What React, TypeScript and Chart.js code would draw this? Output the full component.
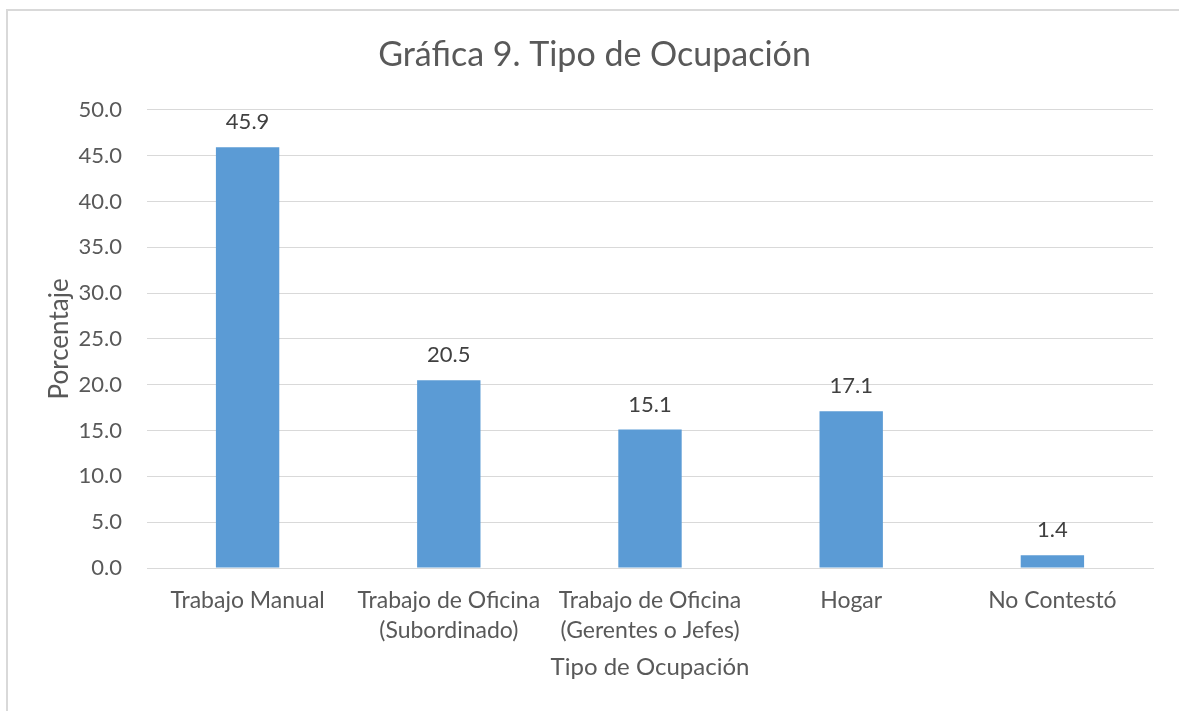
import React, { useEffect, useRef } from "react";
import { Chart, registerables } from "chart.js";

Chart.register(...registerables);

const categories: (string | string[])[] = [
  "Trabajo Manual",
  ["Trabajo de Oficina", "(Subordinado)"],
  ["Trabajo de Oficina", "(Gerentes o Jefes)"],
  "Hogar",
  "No Contestó",
];
const values = [45.9, 20.5, 15.1, 17.1, 1.4];
const titleText = "Gráfica 9. Tipo de Ocupación";
const yTitle = "Porcentaje";
const xTitle = "Tipo de Ocupación";

const FONT = "Lato, 'Open Sans', sans-serif";
const TEXT = "#595959";

const dataLabels = {
  id: "dataLabels",
  afterDatasetsDraw(chart: any) {
    const ctx = chart.ctx;
    const meta = chart.getDatasetMeta(0);
    ctx.save();
    ctx.font = `22px ${FONT}`;
    ctx.fillStyle = "#404040";
    ctx.textAlign = "center";
    ctx.textBaseline = "middle";
    meta.data.forEach((bar: any, i: number) => {
      ctx.fillText(values[i].toFixed(1), bar.x, bar.y - 25);
    });
    ctx.restore();
  },
};

const frame = {
  id: "frame",
  beforeDraw(chart: any) {
    const ctx = chart.ctx;
    ctx.save();
    ctx.fillStyle = "#fff";
    ctx.fillRect(0, 0, chart.width, chart.height);
    ctx.strokeStyle = "#d9d9d9";
    ctx.lineWidth = 2;
    ctx.beginPath();
    ctx.moveTo(7, chart.height);
    ctx.lineTo(7, 10);
    ctx.lineTo(chart.width, 10);
    ctx.stroke();
    ctx.restore();
  },
  afterDraw(chart: any) {
    const ctx = chart.ctx;
    ctx.save();
    ctx.fillStyle = "#fff";
    ctx.fillRect(chart.width - 12, 12, 12, chart.height - 12);
    ctx.restore();
  },
};

export default function App() {
  const ref = useRef<HTMLCanvasElement>(null);
  useEffect(() => {
    if (!ref.current) return;
    const chart = new Chart(ref.current, {
      type: "bar",
      data: {
        labels: categories,
        datasets: [
          {
            data: values,
            backgroundColor: "#5B9BD5",
            borderWidth: 0,
            categoryPercentage: 1,
            barPercentage: 0.315,
          },
        ],
      },
      options: {
        animation: false,
        responsive: false,
        maintainAspectRatio: false,
        layout: { padding: { left: 36, right: 26, top: 20, bottom: 0 } },
        plugins: {
          legend: { display: false },
          tooltip: { enabled: false },
          title: {
            display: true,
            text: titleText,
            color: TEXT,
            font: { family: FONT, size: 34, weight: "normal" },
            padding: { top: 15, bottom: 34 },
          },
        },
        scales: {
          x: {
            grid: { display: false },
            border: { display: true, color: "#d9d9d9", width: 1 },
            ticks: {
              color: TEXT,
              font: { family: FONT, size: 23, lineHeight: 1.3 },
              padding: 10,
              maxRotation: 0,
              autoSkip: false,
            },
            title: {
              display: true,
              text: xTitle,
              color: TEXT,
              font: { family: FONT, size: 24 },
              padding: { top: 4, bottom: 29 },
            },
            afterFit: (s: any) => {
              s.height = 143;
            },
          },
          y: {
            min: 0,
            max: 50,
            grid: { color: "#d9d9d9", lineWidth: 1, drawTicks: false },
            border: { display: false },
            ticks: {
              stepSize: 5,
              color: TEXT,
              font: { family: FONT, size: 22 },
              padding: 25,
              callback: (v: any) => Number(v).toFixed(1),
            },
            title: {
              display: true,
              text: yTitle,
              color: TEXT,
              font: { family: FONT, size: 26 },
              padding: { top: 8, bottom: 0 },
            },
            afterFit: (s: any) => {
              s.width = 111;
            },
          },
        },
      },
      plugins: [frame, dataLabels],
    });
    return () => chart.destroy();
  }, []);
  return (
    <div style={{ position: "absolute", left: 0, top: 0, width: 1179, height: 711, overflow: "hidden" }}>
      <canvas ref={ref} width={1179} height={711} style={{ display: "block" }} />
    </div>
  );
}
